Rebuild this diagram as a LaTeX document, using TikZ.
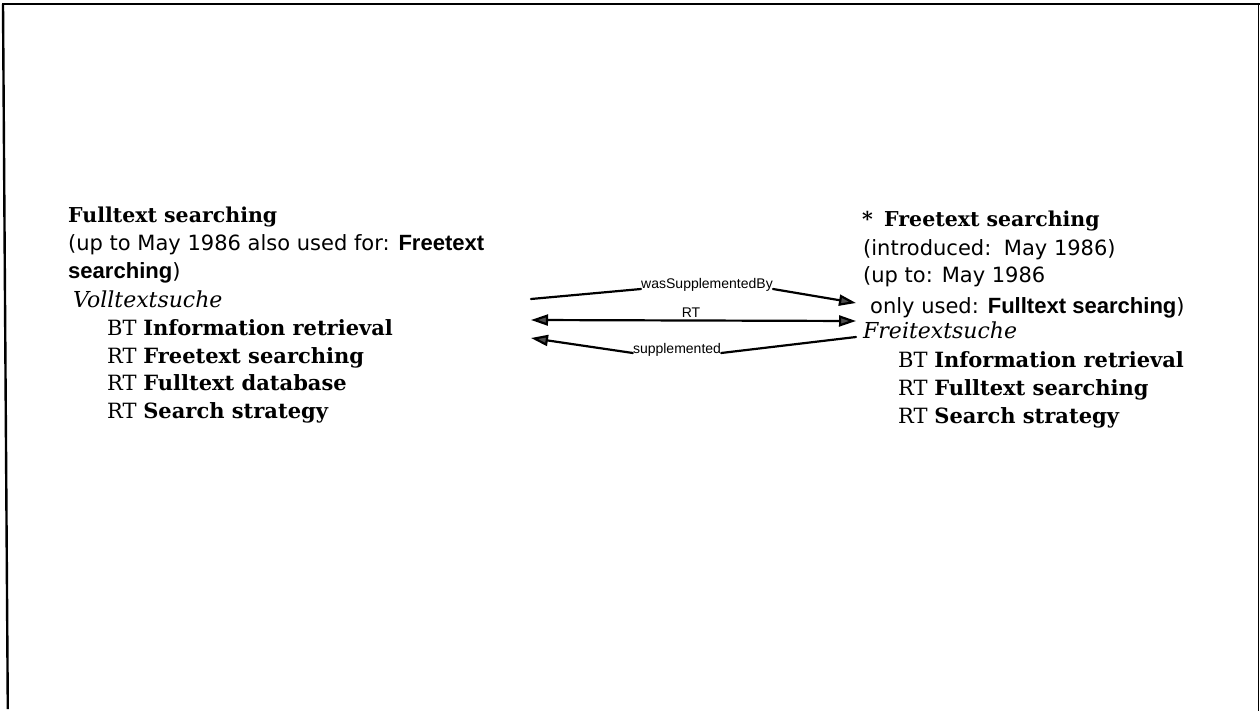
\documentclass[tikz,border=0pt]{standalone}
\usepackage{fontspec}
\setmainfont{DejaVu Serif}
\newfontfamily\sansface{DejaVu Sans}[BoldFont={Liberation Sans Bold},BoldFeatures={Scale=1.05}]
\newfontfamily\labelface{Liberation Sans}
\usetikzlibrary{arrows.meta}

\tikzset{
  txt/.style={inner sep=0pt, anchor=base west},
  head/.style={txt, font=\fontsize{20.5}{21}\selectfont\bfseries},
  note/.style={txt, font=\sansface\fontsize{21}{21}\selectfont},
  german/.style={txt, font=\fontsize{22}{22}\selectfont\itshape},
  entry/.style={txt, font=\fontsize{21}{21}\selectfont},
  rel/.style={line width=2.2pt, line cap=round, line join=round},
  reltip/.style={-{Triangle[length=17pt,width=11pt,fill=black!70]}},
  reltips/.style={{Triangle[length=17pt,width=11pt,fill=black!70]}-{Triangle[length=17pt,width=11pt,fill=black!70]}},
  rlabel/.style={inner sep=0pt, anchor=base, font=\labelface\fontsize{14}{14}\selectfont},
}

\begin{document}
\begin{tikzpicture}[x=1pt,y=-1pt]
\useasboundingbox (0,0) rectangle (1260,711);

% frame
\draw[line width=2.4pt] (2,4) -- (1260,4);
\draw[line width=2.4pt] (3,4) -- (7.8,709);
\draw[line width=1.2pt] (1258.8,3) -- (1258.8,711);

% left descriptor
\node[head]   (l1) at (68,223)  {Fulltext searching};
\node[note]   (l2) at (68,251)  {(up to May 1986 also used for: \textbf{Freetext}};
\node[note]   (l3) at (68,278)  {\textbf{searching})};
\node[german] (l4) at (73,307)  {Volltextsuche};
\node[entry]  (l5) at (107,335) {BT \textbf{Information retrieval}};
\node[entry]  (l6) at (107,363) {RT \textbf{Freetext searching}};
\node[entry]  (l7) at (107,390) {RT \textbf{Fulltext database}};
\node[entry]  (l8) at (107,418) {RT \textbf{Search strategy}};

% right descriptor
\node[head]   (r1) at (862,227) {*\hspace{0.55em}Freetext searching};
\node[note]   (r2) at (863,255) {(introduced:\hspace{0.6em}May 1986)};
\node[note]   (r3) at (863,283) {(up to: May 1986};
\node[note]   (r4) at (870,313) {only used: \textbf{Fulltext searching})};
\node[german] (r5) at (863,338) {Freitextsuche};
\node[entry]  (r6) at (898,367) {BT \textbf{Information retrieval}};
\node[entry]  (r7) at (898,395) {RT \textbf{Fulltext searching}};
\node[entry]  (r8) at (898,423) {RT \textbf{Search strategy}};

% relations
\coordinate (s1) at (531,299);
\coordinate (e1) at (856,303);
\node[rlabel] (lb1) at (707,288) {wasSupplementedBy};
\draw[rel] (s1) -- ([yshift=-1pt]lb1.base west);
\draw[rel,reltip] ([yshift=-1pt]lb1.base east) -- (e1);

\coordinate (s2) at (531,320);
\coordinate (e2) at (856,321);
\node[rlabel] (lb2) at (691,317) {RT};
\draw[rel,reltips] (s2) -- (e2);

\coordinate (s3) at (856,337);
\coordinate (e3) at (531,338);
\node[rlabel] (lb3) at (677,353) {supplemented};
\draw[rel] (s3) -- (lb3.base east);
\draw[rel,reltip] (lb3.base west) -- (e3);
\end{tikzpicture}
\end{document}
